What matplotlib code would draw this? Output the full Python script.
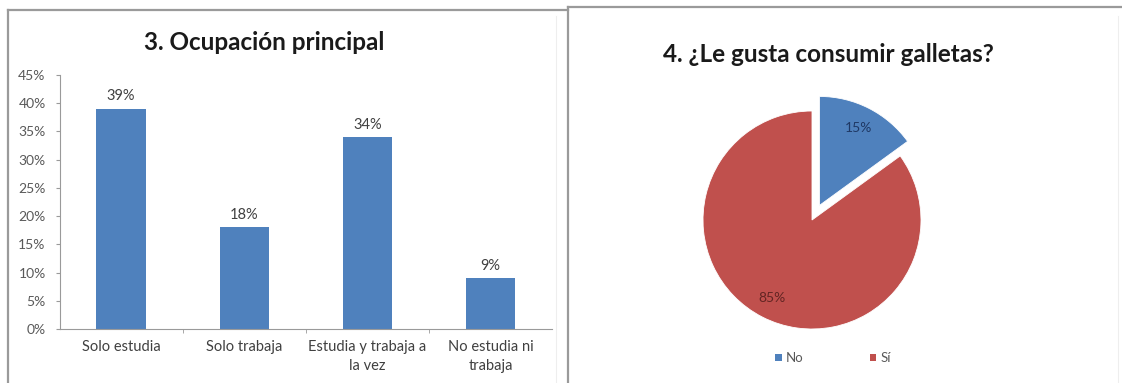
import matplotlib
matplotlib.use("Agg")
import matplotlib.pyplot as plt
from matplotlib.lines import Line2D
from matplotlib.patches import Patch
from matplotlib.ticker import PercentFormatter

plt.rcParams["font.family"] = ["Lato", "DejaVu Sans"]

# datos: ocupación principal
ocupaciones = ["Solo estudia", "Solo trabaja", "Estudia y trabaja a\nla vez", "No estudia ni\ntrabaja"]
ocupacion_pct = [39, 18, 34, 9]

# datos: ¿le gusta consumir galletas?
respuestas = ["No", "Sí"]
galletas_pct = [15, 85]

azul = "#4F81BD"
rojo = "#C0504D"
gris = "#9A9A9A"

W, H = 1122, 383
fig = plt.figure(figsize=(W / 100, H / 100), dpi=100)
fig.patch.set_facecolor("white")


def px(x, y):
    return x / W, 1 - y / H


# ==========================
# marcos de los dos gráficos
# ==========================
for (x0, y0), (x1, y1) in [((8, 10), (8, H)), ((8, 10), (568, 10)),
                           ((568, 7), (568, H)), ((568, 7), (W, 7))]:
    a, b = px(x0, y0)
    c, d = px(x1, y1)
    fig.add_artist(Line2D([a, c], [b, d], color=gris, lw=1.6))
for xf in (556, 1118):
    a, b = px(xf, 16)
    c, d = px(xf, H)
    fig.add_artist(Line2D([a, c], [b, d], color="#EEEEEE", lw=0.8))

# ==========================
# BARRAS
# ==========================
ax = fig.add_axes([59.5 / W, 1 - 329 / H, (552 - 59.5) / W, (329 - 75) / H])
x = range(len(ocupaciones))
bars = ax.bar(x, ocupacion_pct, width=0.4, color=azul)
ax.set_xlim(-0.5, len(ocupaciones) - 0.5)
ax.set_ylim(0, 45)
ax.set_yticks(range(0, 46, 5))
ax.yaxis.set_major_formatter(PercentFormatter(decimals=0))
ax.set_xticks(list(x))
ax.set_xticklabels(ocupaciones, fontsize=10.5, color="#404040", linespacing=1.45)
ax.set_xticks([i + 0.5 for i in range(len(ocupaciones) - 1)], minor=True)
ax.tick_params(axis="x", which="major", length=0, pad=8)
ax.tick_params(axis="x", which="minor", length=3, color=gris)
ax.tick_params(axis="y", labelsize=10, labelcolor="#595959", length=3, color=gris, pad=7)
for s in ("top", "right"):
    ax.spines[s].set_visible(False)
for s in ("left", "bottom"):
    ax.spines[s].set_color(gris)
    ax.spines[s].set_linewidth(0.8)

for b, v in zip(bars, ocupacion_pct):
    ax.annotate(f"{v}%", (b.get_x() + b.get_width() / 2, v), xytext=(0, 4),
                textcoords="offset points", ha="center", va="bottom",
                fontsize=10.5, color="#404040")

tx, ty = px(264, 42)
fig.text(tx, ty, "3. Ocupación principal", ha="center", va="center",
         fontsize=17.5, fontweight="bold", color="#1a1a1a")

# ==========================
# PASTEL
# ==========================
r = 109
cx, cy = 812, 220
ax2 = fig.add_axes([(cx - r) / W, 1 - (cy + r) / H, 2 * r / W, 2 * r / H])
wedges, textos = ax2.pie(galletas_pct, colors=[azul, rojo], startangle=90,
                         counterclock=False, explode=(0.15, 0),
                         labels=[f"{v}%" for v in galletas_pct], labeldistance=0.8,
                         wedgeprops=dict(edgecolor="white", linewidth=0.6))
for t, c in zip(textos, ["#1F3864", "#632523"]):
    t.set_color(c)
    t.set_fontsize(10)
    t.set_ha("center")
    t.set_va("center")
ax2.set_xlim(-1, 1)
ax2.set_ylim(-1, 1)
ax2.set_aspect("equal")
ax2.axis("off")

tx, ty = px(828, 54)
fig.text(tx, ty, "4. ¿Le gusta consumir galletas?", ha="center", va="center",
         fontsize=17.5, fontweight="bold", color="#1a1a1a")

handles = [Patch(facecolor=azul, label=respuestas[0]),
           Patch(facecolor=rojo, label=respuestas[1])]
lx, ly = px(833, 358)
fig.legend(handles=handles, loc="center", bbox_to_anchor=(lx, ly), ncol=2,
           frameon=False, fontsize=9.5, labelcolor="#595959",
           handlelength=0.5, handleheight=0.5, handletextpad=0.3, columnspacing=5.0)

fig.savefig("out.png", dpi=100)
